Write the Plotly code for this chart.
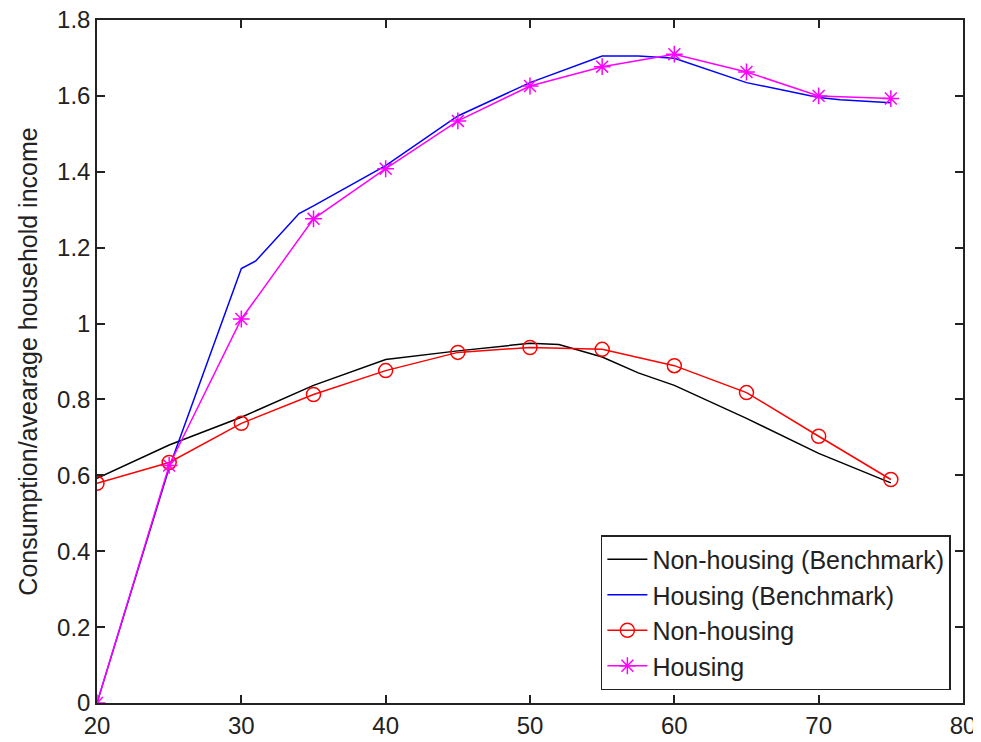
import plotly.graph_objects as go

ages = [20, 25, 30, 35, 40, 45, 50, 55, 60, 65, 70, 75]

bench_nonhousing_age = [20, 25, 30, 35, 40, 45, 50, 52, 55, 57.5, 60, 65, 70, 75]
bench_nonhousing = [0.592, 0.68, 0.753, 0.837, 0.905, 0.928, 0.948, 0.945, 0.912, 0.87, 0.837, 0.75, 0.658, 0.58]

bench_housing_age = [20, 25, 30, 31, 34, 35, 40, 45, 50, 55, 57.5, 60, 65, 70, 71.5, 75]
bench_housing = [0.0, 0.62, 1.145, 1.165, 1.29, 1.31, 1.416, 1.547, 1.635, 1.705, 1.705, 1.699, 1.635, 1.596, 1.59, 1.582]

nonhousing = [0.579, 0.634, 0.737, 0.813, 0.876, 0.924, 0.937, 0.932, 0.889, 0.818, 0.703, 0.589]
housing = [0.0, 0.626, 1.012, 1.276, 1.408, 1.534, 1.626, 1.677, 1.71, 1.663, 1.60, 1.593]

x_ticks = [20, 30, 40, 50, 60, 70, 80]
y_ticks = [0, 0.2, 0.4, 0.6, 0.8, 1.0, 1.2, 1.4, 1.6, 1.8]
y_tick_text = ["0", "0.2", "0.4", "0.6", "0.8", "1", "1.2", "1.4", "1.6", "1.8"]

FONT = "Liberation Sans, Arial, sans-serif"
INK = "#222222"

fig = go.Figure()
fig.add_trace(go.Scatter(x=bench_nonhousing_age, y=bench_nonhousing, mode="lines",
                         name="Non-housing (Benchmark)", line=dict(color="black", width=1.5)))
fig.add_trace(go.Scatter(x=bench_housing_age, y=bench_housing, mode="lines",
                         name="Housing (Benchmark)", line=dict(color="#0000ff", width=1.5)))
fig.add_trace(go.Scatter(x=ages, y=nonhousing, mode="lines+markers", name="Non-housing",
                         line=dict(color="#ff0000", width=1.5),
                         marker=dict(symbol="circle-open", size=14, color="#ff0000",
                                     line=dict(width=1.5, color="#ff0000"))))
fig.add_trace(go.Scatter(x=ages, y=housing, mode="lines+markers", name="Housing",
                         line=dict(color="#ff00ff", width=1.5),
                         marker=dict(symbol="asterisk-open", size=14, color="#ff00ff",
                                     line=dict(width=1.5, color="#ff00ff"))))

# The page body has an 8px default margin, so the figure is sized and offset to fit the window.
fig.update_layout(
    width=973, height=734,
    margin=dict(l=89, r=18, t=12, b=39),
    paper_bgcolor="white", plot_bgcolor="white",
    font=dict(family=FONT, size=24, color=INK),
    showlegend=True,
    legend=dict(x=0.986, y=0.019, xanchor="right", yanchor="bottom",
                bordercolor=INK, borderwidth=1.5, bgcolor="white",
                font=dict(family=FONT, size=25, color=INK),
                tracegroupgap=0, itemwidth=40),
    xaxis=dict(range=[20, 80], tickvals=x_ticks, ticks="inside", ticklen=8,
               tickcolor=INK, tickwidth=1.5, showgrid=False, zeroline=False,
               showline=True, linecolor=INK, linewidth=1.5, mirror="ticks",
               automargin=False, ticklabeloverflow="allow",
               tickfont=dict(family=FONT, size=24, color=INK)),
    yaxis=dict(range=[0, 1.8], tickvals=y_ticks, ticktext=y_tick_text, ticks="inside",
               ticklen=8, tickcolor=INK, tickwidth=1.5, showgrid=False,
               zeroline=False, showline=True, linecolor=INK, linewidth=1.5,
               mirror="ticks", automargin=False, ticklabeloverflow="allow",
               title=dict(text="Consumption/avearage household income",
                          font=dict(family=FONT, size=25, color=INK), standoff=12),
               tickfont=dict(family=FONT, size=24, color=INK)),
)

fig.write_html("out.html")
